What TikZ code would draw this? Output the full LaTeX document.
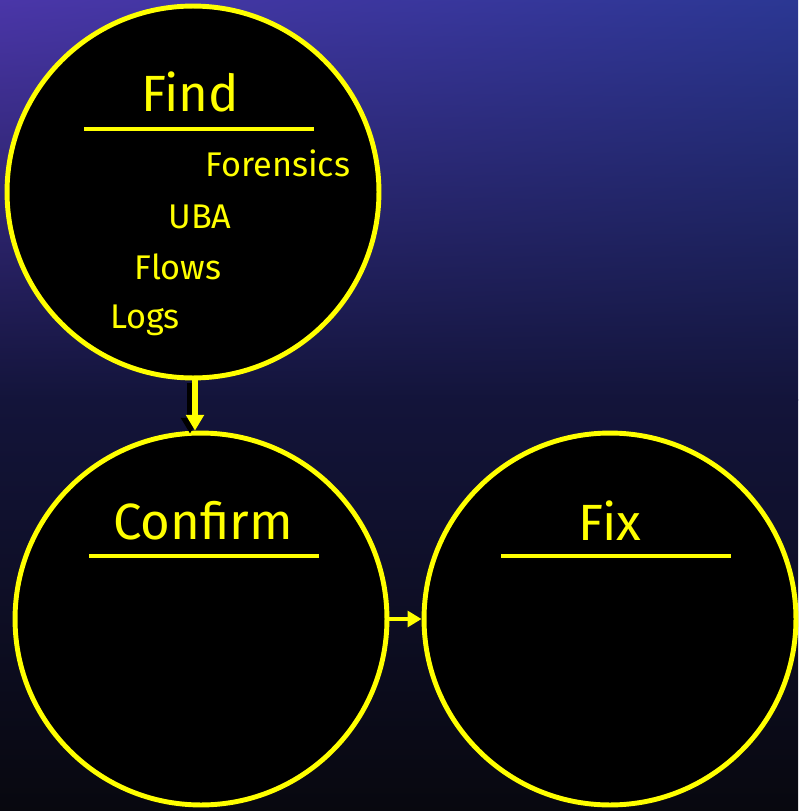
\documentclass[tikz,border=0pt]{standalone}
\usepackage{fontspec}
\setmainfont{Fira Sans}
\usetikzlibrary{arrows.meta,shadings}

\definecolor{bgtl}{HTML}{4A36A8}
\definecolor{bgtr}{HTML}{2B3793}
\definecolor{bgmid}{HTML}{13143A}
\definecolor{bgbot}{HTML}{08080F}
\definecolor{ring}{HTML}{FFFF00}

\tikzset{
  stage/.style={circle, draw=ring, fill=black, line width=2.8pt, minimum size=7.44cm, inner sep=0pt},
  title/.style={text=ring, font=\fontsize{29}{32}\selectfont},
  item/.style={text=ring, font=\fontsize{19.5}{22}\selectfont},
  bar/.style={ring, line width=2.8pt},
  link/.style={ring, line width=2.6pt, -{Triangle[length=8pt,width=9pt]}},
  biglink/.style={link, line width=3.4pt, -{Triangle[length=9pt,width=10pt]}}
}

\begin{document}
\begin{tikzpicture}[x=0.02cm, y=-0.02cm]
  % background
  \shade[upper left=bgtl, upper right=bgtr, lower left=bgmid, lower right=bgmid] (0,0) rectangle (798,400);
  \shade[top color=bgmid, bottom color=bgbot] (0,399.5) rectangle (798,811);
  \useasboundingbox (0,0) rectangle (798,811);

  \node[stage] (find) at (193,192) {};
  \node[stage] (confirm) at (201,619) {};
  \node[stage] (fix) at (610,619) {};

  \node[title] (findt) at (190,92) {Find};
  \node[title] (confirmt) at (203,521) {Confirm};
  \node[title] (fixt) at (610,521) {Fix};

  \draw[bar] (84,129) -- (314,129);
  \draw[bar] (89,556) -- (319,556);
  \draw[bar] (501,556) -- (731,556);

  \node[item] (forensics) at (278,163) {Forensics};
  \node[item] (uba) at (200,217) {UBA};
  \node[item] (flows) at (178,267) {Flows};
  \node[item] (logs) at (145,320) {Logs};

  % arrows
  \coordinate (down) at ([xshift=0.04cm]find.south);
  \draw[biglink, black, transform canvas={xshift=-0.1cm, yshift=-0.06cm}] (down) -- (down |- confirm.north);
  \draw[biglink] (down) -- (down |- confirm.north);
  \draw[link] (confirm.east) -- (fix.west);
\end{tikzpicture}
\end{document}
